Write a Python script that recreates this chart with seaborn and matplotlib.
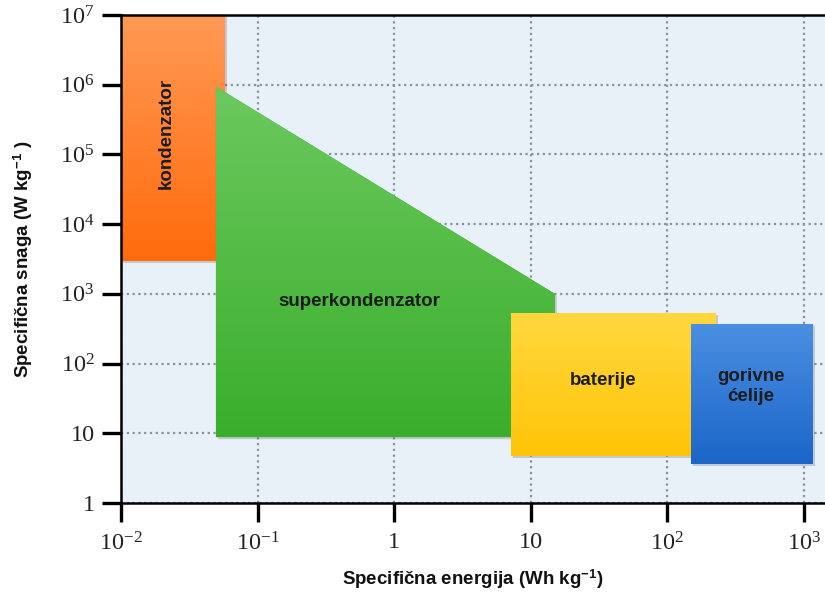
import numpy as np
import matplotlib
matplotlib.use("Agg")
import matplotlib.pyplot as plt
import matplotlib.patheffects as pe
from matplotlib.colors import LinearSegmentedColormap
from matplotlib.ticker import NullLocator
import seaborn as sns

# Ragone-type data: specific energy (Wh/kg) vs specific power (W/kg)
kond_energy = [0.01, 0.058, 0.058, 0.01]
kond_power = [3000, 3000, 1e7, 1e7]

superkond_energy = [0.0495, 15, 15, 0.0495]
superkond_power = [9.4e5, 1000, 8.8, 8.8]

bat_energy = [7.2, 226, 226, 7.2]
bat_power = [4.75, 4.75, 525, 525]

goriv_energy = [148, 1160, 1160, 148]
goriv_power = [3.6, 3.6, 370, 370]

labels = ["kondenzator", "superkondenzator", "baterije", "gorivne\nćelije"]

x_ticks = [1e-2, 1e-1, 1, 10, 1e2, 1e3]
x_tick_labels = [r"$10^{-2}$", r"$10^{-1}$", "1", "10", r"$10^{2}$", r"$10^{3}$"]
y_ticks = [1, 10, 1e2, 1e3, 1e4, 1e5, 1e6, 1e7]
y_tick_labels = ["1", "10", r"$10^{2}$", r"$10^{3}$", r"$10^{4}$", r"$10^{5}$",
                 r"$10^{6}$", r"$10^{7}$"]

sns.set_theme(style="ticks")
plt.rcParams["font.family"] = ["Liberation Sans", "DejaVu Sans"]
plt.rcParams["mathtext.fontset"] = "custom"
plt.rcParams["mathtext.rm"] = "Liberation Serif"
plt.rcParams["mathtext.it"] = "Liberation Serif:italic"
plt.rcParams["mathtext.bf"] = "Liberation Sans:bold"

fig = plt.figure(figsize=(8.25, 5.93), dpi=100)
ax = fig.add_axes([0.1467, 0.1518, 0.8533, 0.8229])
ax.set_facecolor("#E8F1F8")
ax.set_xscale("log")
ax.set_yscale("log")
ax.set_xlim(1e-2, 10 ** 3.154)
ax.set_ylim(1, 1e7)

ax.grid(True, which="major", linestyle=(0, (1, 1.6)), color="#8d9199",
        linewidth=1.6, zorder=0)
ax.set_axisbelow(True)

# data -> axes fraction, so gradients are linear on screen
to_frac = ax.transScale + ax.transLimits
shadow = [pe.SimplePatchShadow(offset=(1.5, -1.5), shadow_rgbFace="#555555",
                               alpha=0.25), pe.Normal()]


def gradient_shape(xs, ys, top, bottom, z):
    poly = ax.fill(xs, ys, color=bottom, lw=0, zorder=z)[0]
    poly.set_path_effects(shadow)
    cmap = LinearSegmentedColormap.from_list("g", [bottom, top])
    grad = np.linspace(0, 1, 256).reshape(-1, 1)
    (x0, y0), (x1, y1) = to_frac.transform([[min(xs), min(ys)],
                                            [max(xs), max(ys)]])
    img = ax.imshow(grad, cmap=cmap, aspect="auto", origin="lower",
                    extent=[x0, x1, y0, y1], transform=ax.transAxes,
                    interpolation="bilinear", zorder=z)
    img.set_clip_path(poly)


gradient_shape(kond_energy, kond_power, "#FF9A55", "#FF6A0C", 2)
gradient_shape(superkond_energy, superkond_power, "#6CC95E", "#3AAE2C", 3)
gradient_shape(bat_energy, bat_power, "#FFD83E", "#FFC408", 4)
gradient_shape(goriv_energy, goriv_power, "#4B8FE2", "#1B66C8", 5)

ax.set_xlim(1e-2, 10 ** 3.154)
ax.set_ylim(1, 1e7)

txt = dict(fontsize=13.5, fontweight="bold", color="#1c1c1c", ha="center",
           va="center", zorder=10)
ax.text(0.0215, 2.0e5, labels[0], rotation=90, **txt)
ax.text(0.56, 780, labels[1], **txt)
ax.text(34, 58, labels[2], **txt)
ax.text(410, 47, labels[3], linespacing=1.2, **txt)

ax.set_xticks(x_ticks)
ax.set_xticklabels(x_tick_labels)
ax.set_yticks(y_ticks)
ax.set_yticklabels(y_tick_labels)
ax.xaxis.set_minor_locator(NullLocator())
ax.yaxis.set_minor_locator(NullLocator())
for lab in ax.get_xticklabels() + ax.get_yticklabels():
    lab.set_fontfamily("Liberation Serif")
ax.tick_params(axis="x", length=14, width=2.4, pad=7, labelsize=17.5,
               color="black", labelcolor="#222222")
ax.tick_params(axis="y", length=14, width=2.4, pad=5, labelsize=17.5,
               color="black", labelcolor="#222222")

for side in ["left", "bottom", "top"]:
    ax.spines[side].set_color("black")
    ax.spines[side].set_linewidth(1.8)
    ax.spines[side].set_zorder(12)
ax.spines["right"].set_visible(False)

ax.set_xlabel(r"Specifična energija (Wh kg$^{\mathbf{-1}}$)", fontsize=13.5,
              fontweight="bold", labelpad=9, color="#111111")
ax.set_ylabel(r"Specifična snaga (W kg$^{\mathbf{-1}}$ )", fontsize=13.5,
              fontweight="bold", labelpad=18, color="#111111")

fig.savefig("out.png", dpi=100)
